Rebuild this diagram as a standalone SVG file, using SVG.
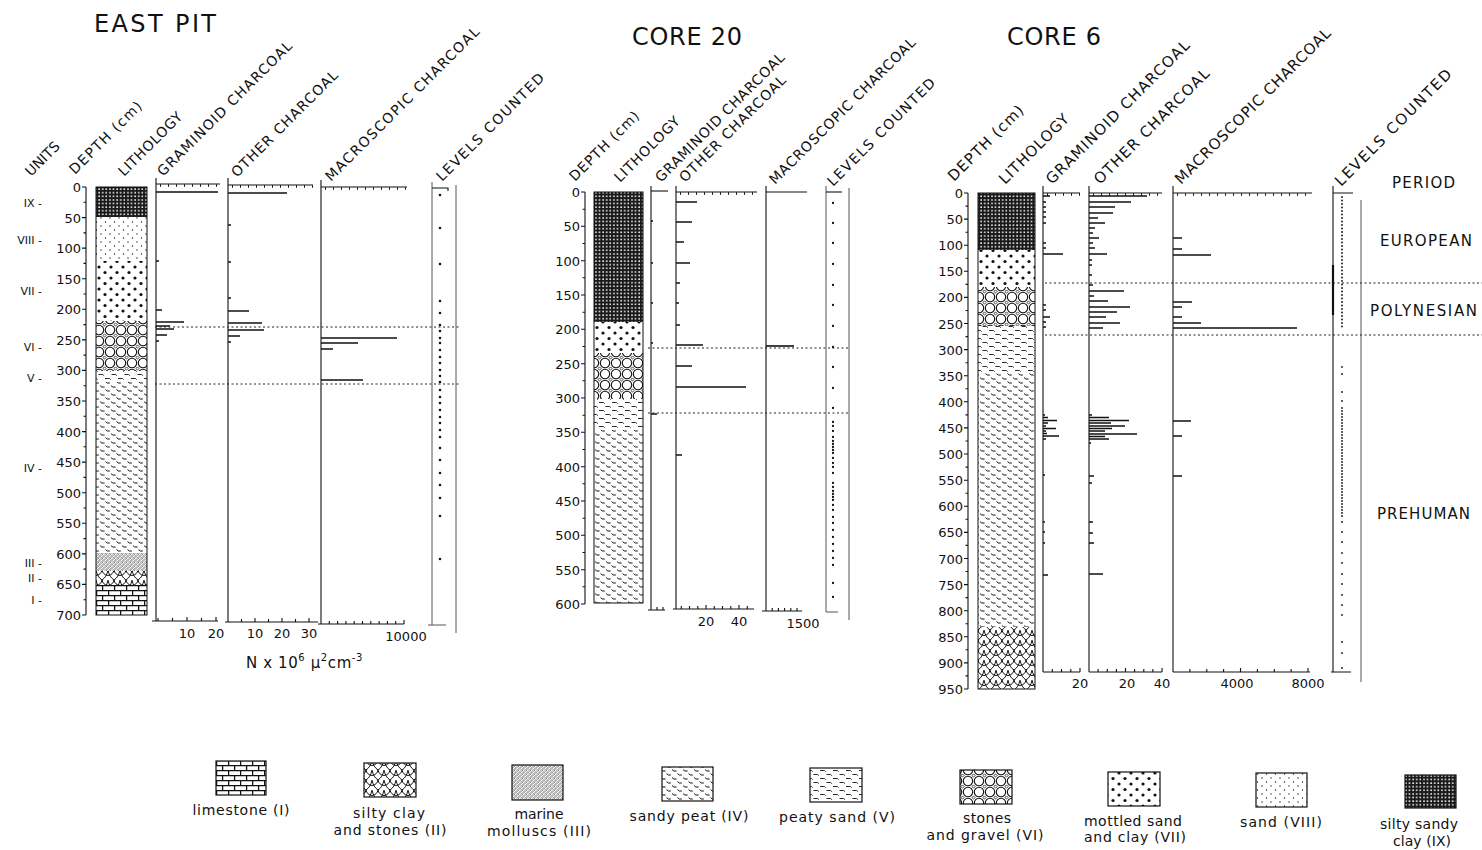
<svg xmlns="http://www.w3.org/2000/svg" width="1482" height="850" viewBox="0 0 1482 850">
<style>
text{font-family:"DejaVu Sans","Liberation Sans",Arial,sans-serif;fill:#111}
.tt{font-size:24px}
.hd{font-size:14px}
.hd6{font-size:15px}
.dl{font-size:13px;text-anchor:end}
.un{font-size:11px;text-anchor:end}
.bl{font-size:13px;text-anchor:middle}
.pd{font-size:15px}
.lg{font-size:14px;text-anchor:middle}
.ax{stroke:#111;stroke-width:1.1;fill:none}
.axg{stroke:#555;stroke-width:1;fill:none}
.bar{stroke:#111;stroke-width:1.6;fill:none}
.tk{stroke:#111;stroke-width:2.4;stroke-dasharray:1 7;fill:none}
.dt{stroke:#111;stroke-width:2.6;stroke-linecap:round;fill:none}
.dt2{stroke:#111;stroke-width:1.8;stroke-linecap:round;fill:none}
.hz{stroke:#222;stroke-width:1;stroke-dasharray:2 2.5;fill:none}
.col{fill:none;stroke:#111;stroke-width:1}
</style>
<defs>
<pattern id="pIX" width="3.6" height="3.6" patternUnits="userSpaceOnUse"><rect width="3.6" height="3.6" fill="#1a1a1a"/><rect x="1.2" y="1.2" width="1.5" height="1.5" fill="#fff"/></pattern>
<pattern id="pVIII" width="9" height="8" patternUnits="userSpaceOnUse"><rect width="9" height="8" fill="#fff"/><circle cx="2" cy="2" r="0.65" fill="#111"/><circle cx="6.5" cy="6" r="0.65" fill="#111"/></pattern>
<pattern id="pVII" width="12" height="11" patternUnits="userSpaceOnUse"><rect width="12" height="11" fill="#fff"/><circle cx="3" cy="3" r="1.6" fill="#111"/><circle cx="9" cy="8.5" r="1.6" fill="#111"/></pattern>
<pattern id="pVI" width="11" height="11" patternUnits="userSpaceOnUse"><rect width="11" height="11" fill="#fff"/><g fill="none" stroke="#111" stroke-width="1.1"><circle cx="0" cy="0" r="4.7"/><circle cx="11" cy="0" r="4.7"/><circle cx="0" cy="11" r="4.7"/><circle cx="11" cy="11" r="4.7"/><path d="M5.5,3.9L7.1,5.5L5.5,7.1L3.9,5.5Z" stroke-width="0.8"/></g></pattern>
<pattern id="pV" width="13" height="8" patternUnits="userSpaceOnUse"><rect width="13" height="8" fill="#fff"/><path d="M1,2.5h4.5l1.2,1.2M7.5,6.5h4.2l1.2,1.2" stroke="#111" stroke-width="0.9" fill="none"/></pattern>
<pattern id="pIV" width="11" height="8" patternUnits="userSpaceOnUse"><rect width="11" height="8" fill="#fff"/><path d="M1,1.6l1.8,1.4h2.8M6.5,5.6l1.8,1.4h2.5" stroke="#111" stroke-width="1" fill="none"/></pattern>
<pattern id="pIII" width="4" height="4" patternUnits="userSpaceOnUse"><rect width="4" height="4" fill="#fff"/><path d="M0.4,0.6l0.9,1M2.4,2.4l0.9,1" stroke="#111" stroke-width="0.9"/><circle cx="3" cy="0.9" r="0.55" fill="#111"/><circle cx="1" cy="3.1" r="0.55" fill="#111"/></pattern>
<pattern id="pII" width="12" height="10" patternUnits="userSpaceOnUse"><rect width="12" height="10" fill="#fff"/><path d="M0,0C1,5 3,8 6,10M12,0C11,5 9,8 6,10M6,0C5.5,3 3.5,5 0,5.5M6,0C6.5,3 8.5,5 12,5.5" stroke="#111" stroke-width="1" fill="none"/></pattern>
<pattern id="pI" width="12" height="10" patternUnits="userSpaceOnUse"><rect width="12" height="10" fill="#fff"/><path d="M0,0.6H12M0,5.6H12M0.6,0.6V5.6M6.6,5.6V10" stroke="#111" stroke-width="1.3" fill="none"/></pattern>
</defs>
<rect width="1482" height="850" fill="#fff"/>

<g id="east-pit">
<text class="tt" x="94" y="32" textLength="122">EAST PIT</text>
<g id="ep-headers">
<text class="hd" transform="translate(31,177) rotate(-45)" textLength="42">UNITS</text>
<text class="hd" transform="translate(75,175) rotate(-45)" textLength="96">DEPTH (cm)</text>
<text class="hd" transform="translate(124,177) rotate(-45)" textLength="84">LITHOLOGY</text>
<text class="hd" transform="translate(163,177) rotate(-45)" textLength="184">GRAMINOID CHARCOAL</text>
<text class="hd" transform="translate(237,178) rotate(-45)" textLength="144">OTHER CHARCOAL</text>
<text class="hd" transform="translate(331,182) rotate(-45)" textLength="211">MACROSCOPIC CHARCOAL</text>
<text class="hd" transform="translate(442,182) rotate(-45)" textLength="146">LEVELS COUNTED</text>
</g>
<g id="ep-units">
<text class="un" x="42" y="207">IX -</text>
<text class="un" x="42" y="244">VIII -</text>
<text class="un" x="42" y="295">VII -</text>
<text class="un" x="42" y="351">VI -</text>
<text class="un" x="42" y="382">V -</text>
<text class="un" x="42" y="472">IV -</text>
<text class="un" x="42" y="567">III -</text>
<text class="un" x="42" y="582">II -</text>
<text class="un" x="42" y="604">I -</text>
</g>
<g id="ep-depth">
<path class="ax" d="M86,187V615M82,187H86M82,217.6H86M82,248.1H86M82,278.7H86M82,309.3H86M82,339.9H86M82,370.4H86M82,401H86M82,431.6H86M82,462.1H86M82,492.7H86M82,523.3H86M82,553.9H86M82,584.4H86M82,615H86M83.5,202.3H86M83.5,232.9H86M83.5,263.4H86M83.5,294H86M83.5,324.6H86M83.5,355.1H86M83.5,385.7H86M83.5,416.3H86M83.5,446.8H86M83.5,477.4H86M83.5,508H86M83.5,538.6H86M83.5,569.1H86M83.5,599.7H86"/>
<text class="dl" x="81" y="192">0</text><text class="dl" x="81" y="222.6">50</text><text class="dl" x="81" y="253.1">100</text><text class="dl" x="81" y="283.7">150</text><text class="dl" x="81" y="314.3">200</text><text class="dl" x="81" y="344.9">250</text><text class="dl" x="81" y="375.4">300</text><text class="dl" x="81" y="406">350</text><text class="dl" x="81" y="436.6">400</text><text class="dl" x="81" y="467.1">450</text><text class="dl" x="81" y="497.7">500</text><text class="dl" x="81" y="528.3">550</text><text class="dl" x="81" y="558.9">600</text><text class="dl" x="81" y="589.4">650</text><text class="dl" x="81" y="620">700</text>
</g>
<g id="ep-lithology">
<rect x="96" y="187" width="51" height="30" fill="url(#pIX)"/>
<rect x="96" y="217" width="51" height="44" fill="url(#pVIII)"/>
<rect x="96" y="261" width="51" height="60" fill="url(#pVII)"/>
<rect x="96" y="321" width="51" height="50" fill="url(#pVI)"/>
<rect x="96" y="371" width="51" height="11" fill="url(#pV)"/>
<rect x="96" y="382" width="51" height="171" fill="url(#pIV)"/>
<rect x="96" y="553" width="51" height="18" fill="url(#pIII)"/>
<rect x="96" y="571" width="51" height="14" fill="url(#pII)"/>
<rect x="96" y="585" width="51" height="30" fill="url(#pI)"/>
<rect class="col" x="96" y="187" width="51" height="428"/>
</g>
<g id="ep-graminoid">
<path class="ax" d="M156,178V621M152,621H218M158,621V618M172.5,621V618M187,621V617M201.5,621V618M216,621V617"/>
<path class="ax" d="M156,184H220"/><path class="tk" d="M160,185.5H220"/>
<path class="bar" d="M156,192H218M156,261H159M156,310H162M156,322H184M156,326H170M156,329H174M156,335H167M156,341H159"/>
<text class="bl" x="187" y="638">10</text><text class="bl" x="216" y="638">20</text>
</g>
<g id="ep-other">
<path class="ax" d="M228,178V622M225,622H318M228,622V619M241.5,622V619M255,622V618M268.5,622V619M282,622V618M295.5,622V619M309,622V618"/>
<path class="ax" d="M228,185H313"/><path class="tk" d="M232,186.5H313"/>
<path class="bar" d="M228,193H287M228,225H231M228,262H231M228,298H231M228,311H249M228,323H262M228,330H264M228,336H240M228,342H231"/>
<text class="bl" x="255" y="638">10</text><text class="bl" x="282" y="638">20</text><text class="bl" x="309" y="638">30</text>
</g>
<g id="ep-macro">
<path class="ax" d="M321,180V624M318,624H404M329.3,624V621M337.6,624V621M345.9,624V621M354.2,624V621M362.5,624V621M370.8,624V621M379.1,624V621M387.4,624V621M395.7,624V621M404,624V620"/>
<path class="ax" d="M321,187H407"/><path class="tk" d="M325,188.5H407"/>
<path class="bar" d="M321,338H397M321,343H358M321,349H333M321,380H363"/>
<text class="bl" x="406" y="641">10000</text>
</g>
<g id="ep-levels">
<path class="axg" d="M432,182V625M428,625H446M456,185V633"/>
<path class="ax" d="M432,188H448V191"/>
<path class="dt" d="M440,195h0M440,228h0M440,264h0M440,301h0M440,313h0M440,325h0M440,331h0M440,338h0M440,343h0M440,350h0M440,357h0M440,363h0M440,370h0M440,376h0M440,382h0M440,390h0M440,397h0M440,403h0M440,410h0M440,417h0M440,423h0M440,430h0M440,437h0M440,448h0M440,460h0M440,473h0M440,485h0M440,498h0M440,516h0M440,559h0"/>
</g>
<text x="246" y="668" style="font-size:15px;letter-spacing:0.6px">N  x  10<tspan dy="-7" font-size="10">6</tspan><tspan dy="7">  μ</tspan><tspan dy="-7" font-size="10">2</tspan><tspan dy="7">cm</tspan><tspan dy="-7" font-size="10">-3</tspan></text>
</g>

<g id="core-20">
<text class="tt" x="632" y="45" textLength="110">CORE 20</text>
<g id="c20-headers">
<text class="hd" transform="translate(575,182) rotate(-45)" textLength="92">DEPTH (cm)</text>
<text class="hd" transform="translate(620,183) rotate(-45)" textLength="86">LITHOLOGY</text>
<text class="hd" transform="translate(661,183) rotate(-45)" textLength="176">GRAMINOID CHARCOAL</text>
<text class="hd" transform="translate(685,183) rotate(-45)" textLength="144">OTHER CHARCOAL</text>
<text class="hd" transform="translate(775,185) rotate(-45)" textLength="200">MACROSCOPIC CHARCOAL</text>
<text class="hd" transform="translate(833,187) rotate(-45)" textLength="146">LEVELS COUNTED</text>
</g>
<g id="c20-depth">
<path class="ax" d="M585,192V604M581,192H585M581,226.3H585M581,260.7H585M581,295H585M581,329.3H585M581,363.7H585M581,398H585M581,432.3H585M581,466.7H585M581,501H585M581,535.3H585M581,569.7H585M581,604H585M582.5,209.2H585M582.5,243.5H585M582.5,277.8H585M582.5,312.2H585M582.5,346.5H585M582.5,380.8H585M582.5,415.2H585M582.5,449.5H585M582.5,483.8H585M582.5,518.2H585M582.5,552.5H585M582.5,586.8H585"/>
<text class="dl" x="580" y="197">0</text><text class="dl" x="580" y="231.3">50</text><text class="dl" x="580" y="265.7">100</text><text class="dl" x="580" y="300">150</text><text class="dl" x="580" y="334.3">200</text><text class="dl" x="580" y="368.7">250</text><text class="dl" x="580" y="403">300</text><text class="dl" x="580" y="437.3">350</text><text class="dl" x="580" y="471.7">400</text><text class="dl" x="580" y="506">450</text><text class="dl" x="580" y="540.3">500</text><text class="dl" x="580" y="574.7">550</text><text class="dl" x="580" y="609">600</text>
</g>
<g id="c20-lithology">
<rect x="594" y="192" width="49" height="130" fill="url(#pIX)"/>
<rect x="594" y="322" width="49" height="31" fill="url(#pVII)"/>
<rect x="594" y="353" width="49" height="46" fill="url(#pVI)"/>
<rect x="594" y="399" width="49" height="31" fill="url(#pV)"/>
<rect x="594" y="430" width="49" height="173" fill="url(#pIV)"/>
<rect class="col" x="594" y="192" width="49" height="411"/>
</g>
<g id="c20-graminoid">
<path class="ax" d="M651,186V610M648,610H665M657,610V607M663,610V607"/>
<path class="ax" d="M651,191H668"/>
<path class="bar" d="M651,221H653M651,263H653M651,303H653M651,343H653M651,414H657"/>
</g>
<g id="c20-other">
<path class="ax" d="M676,186V609M673,609H754M681.3,609V606M689.5,609V606M697.8,609V606M706,609V605M714.3,609V606M722.5,609V606M730.8,609V606M739,609V605M747.3,609V606"/>
<path class="ax" d="M676,192H757"/><path class="tk" d="M680,193.5H757"/>
<path class="bar" d="M676,202H697M676,222H692M676,242H684M676,263H690M676,283H680M676,303H679M676,325H680M676,345H703M676,366H692M676,387H746M676,455H682"/>
<text class="bl" x="706" y="626">20</text><text class="bl" x="739" y="626">40</text>
</g>
<g id="c20-macro">
<path class="ax" d="M766,186V611M762,611H802M772.2,611V608M778.4,611V608M784.6,611V608M790.8,611V608M797,611V608"/>
<path class="ax" d="M766,192H807"/>
<path class="bar" d="M766,346H794"/>
<text class="bl" x="803" y="628">1500</text>
</g>
<g id="c20-levels">
<path class="axg" d="M826,186V612M826,612H838M849,188V620"/>
<path class="ax" d="M826,192H842"/>
<path class="dt" style="stroke-width:2.3" d="M833,203h0M833,223h0M833,243h0M833,264h0M833,285h0M833,305h0M833,326h0M833,347h0M833,367h0M833,388h0M833,408h0M833,422h0M833,426h0M833,431h0M833,437h0M833,441h0M833,444h0M833,447h0M833,450h0M833,453h0M833,458h0M833,463h0M833,467h0M833,473h0M833,483h0M833,487h0M833,491h0M833,494h0M833,497h0M833,500h0M833,505h0M833,510h0M833,517h0M833,523h0M833,530h0M833,537h0M833,544h0M833,551h0M833,558h0M833,565h0M833,583h0M833,597h0"/>
</g>
</g>

<g id="core-6">
<text class="tt" x="1007" y="45" textLength="94">CORE 6</text>
<g id="c6-headers">
<text class="hd6" transform="translate(954,182) rotate(-45)" textLength="100">DEPTH (cm)</text>
<text class="hd6" transform="translate(1005,185) rotate(-45)" textLength="92">LITHOLOGY</text>
<text class="hd6" transform="translate(1052,185) rotate(-45)" textLength="196">GRAMINOID CHARCOAL</text>
<text class="hd6" transform="translate(1100,185) rotate(-45)" textLength="156">OTHER CHARCOAL</text>
<text class="hd6" transform="translate(1181,185) rotate(-45)" textLength="213">MACROSCOPIC CHARCOAL</text>
<text class="hd6" transform="translate(1341,187) rotate(-45)" textLength="158">LEVELS COUNTED</text>
</g>
<g id="c6-depth">
<path class="ax" d="M968,193V689M964,193H968M964,219.1H968M964,245.2H968M964,271.3H968M964,297.4H968M964,323.5H968M964,349.6H968M964,375.7H968M964,401.8H968M964,427.9H968M964,454H968M964,480.2H968M964,506.3H968M964,532.4H968M964,558.5H968M964,584.6H968M964,610.7H968M964,636.8H968M964,662.9H968M964,689H968M965.5,206.1H968M965.5,232.2H968M965.5,258.3H968M965.5,284.4H968M965.5,310.5H968M965.5,336.6H968M965.5,362.7H968M965.5,388.8H968M965.5,414.9H968M965.5,441H968M965.5,467.1H968M965.5,493.2H968M965.5,519.3H968M965.5,545.4H968M965.5,571.5H968M965.5,597.6H968M965.5,623.7H968M965.5,649.8H968M965.5,675.9H968"/>
<text class="dl" x="963" y="198">0</text><text class="dl" x="963" y="224.1">50</text><text class="dl" x="963" y="250.2">100</text><text class="dl" x="963" y="276.3">150</text><text class="dl" x="963" y="302.4">200</text><text class="dl" x="963" y="328.5">250</text><text class="dl" x="963" y="354.6">300</text><text class="dl" x="963" y="380.7">350</text><text class="dl" x="963" y="406.8">400</text><text class="dl" x="963" y="432.9">450</text><text class="dl" x="963" y="459">500</text><text class="dl" x="963" y="485.2">550</text><text class="dl" x="963" y="511.3">600</text><text class="dl" x="963" y="537.4">650</text><text class="dl" x="963" y="563.5">700</text><text class="dl" x="963" y="589.6">750</text><text class="dl" x="963" y="615.7">800</text><text class="dl" x="963" y="641.8">850</text><text class="dl" x="963" y="667.9">900</text><text class="dl" x="963" y="694">950</text>
</g>
<g id="c6-lithology">
<rect x="978" y="193" width="57" height="57" fill="url(#pIX)"/>
<rect x="978" y="250" width="57" height="37" fill="url(#pVII)"/>
<rect x="978" y="287" width="57" height="39" fill="url(#pVI)"/>
<rect x="978" y="326" width="57" height="47" fill="url(#pV)"/>
<rect x="978" y="373" width="57" height="254" fill="url(#pIV)"/>
<rect x="978" y="627" width="57" height="62" fill="url(#pII)"/>
<rect class="col" x="978" y="193" width="57" height="496"/>
</g>
<g id="c6-graminoid">
<path class="ax" d="M1043,186V672M1043,672H1080M1052.3,672V669M1061.5,672V669M1070.8,672V669M1080,672V668"/>
<path class="ax" d="M1043,193H1080"/><path class="tk" d="M1047,194.5H1080"/>
<path class="bar" d="M1043,196H1050M1043,202H1046M1043,207H1046M1043,212H1046M1043,217H1046M1043,223H1046M1043,243H1046M1043,248H1046M1043,254H1063M1043,305H1046M1043,310H1046M1043,317H1050M1043,322H1046M1043,327H1046M1043,415H1045M1043,417.5H1048M1043,420.5H1057M1043,423H1048M1043,426H1046M1043,428.5H1056M1043,431H1046M1043,433.5H1047M1043,436H1059M1043,439H1046M1043,475H1045M1043,522H1045M1043,532H1045M1043,543H1045M1043,575H1048"/>
<text class="bl" x="1080" y="688">20</text>
</g>
<g id="c6-other">
<path class="ax" d="M1089,186V672M1089,672H1162M1098.1,672V669M1107.3,672V669M1116.4,672V669M1125.5,672V668M1134.6,672V669M1143.8,672V669M1152.9,672V669M1162,672V668"/>
<path class="ax" d="M1089,193H1162"/><path class="tk" d="M1093,194.5H1162"/>
<path class="bar" d="M1089,196H1147M1089,202H1131M1089,207H1115M1089,213H1113M1089,218H1098M1089,223H1105M1089,228H1095M1089,233H1093M1089,238H1099M1089,243H1093M1089,248H1095M1089,254H1107M1089,260H1092M1089,265H1092M1089,275H1092M1089,285H1093M1089,291H1124M1089,296H1094M1089,301H1108M1089,307H1130M1089,312H1117M1089,317H1106M1089,323H1120M1089,328H1103M1089,415H1092M1089,417.5H1109M1089,420.5H1129M1089,423H1111M1089,426H1125M1089,428.5H1112M1089,431H1105M1089,434H1137M1089,436.5H1105M1089,439H1109M1089,443H1091M1089,476H1094M1089,483H1092M1089,522H1093M1089,533H1093M1089,543H1094M1089,574H1103"/>
<text class="bl" x="1127" y="688">20</text><text class="bl" x="1162" y="688">40</text>
</g>
<g id="c6-macro">
<path class="ax" d="M1173,186V672M1173,672H1310M1189.9,672V669M1206.8,672V669M1223.6,672V669M1240.5,672V668M1257.4,672V669M1274.3,672V669M1291.1,672V669M1308,672V668"/>
<path class="ax" d="M1173,193H1312"/><path class="tk" d="M1177,194.5H1312"/>
<path class="bar" d="M1173,238H1182M1173,249H1182M1173,255H1211M1173,302H1192M1173,307H1182M1173,317H1182M1173,323H1201M1173,328H1297M1173,421H1191M1173,436H1182M1173,476H1182"/>
<text class="bl" x="1237" y="688">4000</text><text class="bl" x="1308" y="688">8000</text>
</g>
<g id="c6-levels">
<path class="ax" d="M1333,186V672M1331,672H1351M1333,193H1353"/>
<path class="ax" style="stroke-width:2.2" d="M1333,265V315"/>
<path class="axg" d="M1361,200V682"/>
<path class="dt2" style="stroke-dasharray:0.1 3.4" d="M1342,197V330"/>
<path class="dt2" style="stroke-dasharray:0.1 2.9" d="M1342,408V517"/>
<path class="dt2" d="M1342,367h0M1342,374h0M1342,392h0M1342,401h0M1342,522h0M1342,532h0M1342,542h0M1342,553h0M1342,563h0M1342,574h0M1342,584h0M1342,595h0M1342,605h0M1342,615h0M1342,642h0M1342,653h0M1342,668h0"/>
</g>
</g>

<g id="period">
<text class="pd" x="1392" y="188" textLength="63">PERIOD</text>
<text class="pd" x="1380" y="246" textLength="92">EUROPEAN</text>
<text class="pd" x="1370" y="316" textLength="107">POLYNESIAN</text>
<text class="pd" x="1377" y="519" textLength="93">PREHUMAN</text>
</g>

<g id="horizons">
<path class="hz" d="M155,327H460M155,384H460"/>
<path class="hz" d="M648,348H848M648,413H848"/>
<path class="hz" d="M1045,283H1482M1045,335H1482"/>
</g>

<g id="legend">
<g id="lg-limestone"><rect x="216" y="761" width="50" height="34" fill="url(#pI)" stroke="#111" stroke-width="1.2"/><text class="lg" x="241" y="815" textLength="97">limestone (I)</text></g>
<g id="lg-siltyclay"><rect x="364" y="763" width="52" height="34" fill="url(#pII)" stroke="#111" stroke-width="1.2"/><text class="lg" x="389" y="818" textLength="72">silty clay</text><text class="lg" x="390" y="835" textLength="113">and stones (II)</text></g>
<g id="lg-marine"><rect x="512" y="765" width="51" height="35" fill="url(#pIII)" stroke="#111" stroke-width="1.2"/><text class="lg" x="539" y="819" textLength="49">marine</text><text class="lg" x="539" y="836" textLength="104">molluscs (III)</text></g>
<g id="lg-sandypeat"><rect x="662" y="767" width="51" height="34" fill="url(#pIV)" stroke="#111" stroke-width="1.2"/><text class="lg" x="689" y="821" textLength="119">sandy peat (IV)</text></g>
<g id="lg-peatysand"><rect x="810" y="768" width="52" height="34" fill="url(#pV)" stroke="#111" stroke-width="1.2"/><text class="lg" x="837" y="822" textLength="116">peaty sand (V)</text></g>
<g id="lg-stones"><rect x="960" y="770" width="52" height="34" fill="url(#pVI)" stroke="#111" stroke-width="1.2"/><text class="lg" x="987" y="823" textLength="48">stones</text><text class="lg" x="985" y="840" textLength="117">and gravel (VI)</text></g>
<g id="lg-mottled"><rect x="1108" y="772" width="52" height="34" fill="url(#pVII)" stroke="#111" stroke-width="1.2"/><text class="lg" x="1133" y="826" textLength="98">mottled sand</text><text class="lg" x="1135" y="842" textLength="102">and clay (VII)</text></g>
<g id="lg-sand"><rect x="1256" y="773" width="51" height="34" fill="url(#pVIII)" stroke="#111" stroke-width="1.2"/><text class="lg" x="1281" y="827" textLength="82">sand (VIII)</text></g>
<g id="lg-siltysandyclay"><rect x="1405" y="775" width="51" height="33" fill="url(#pIX)" stroke="#111" stroke-width="1.2"/><text class="lg" x="1419" y="829" textLength="78">silty sandy</text><text class="lg" x="1422" y="846" textLength="58">clay (IX)</text></g>
</g>
</svg>
